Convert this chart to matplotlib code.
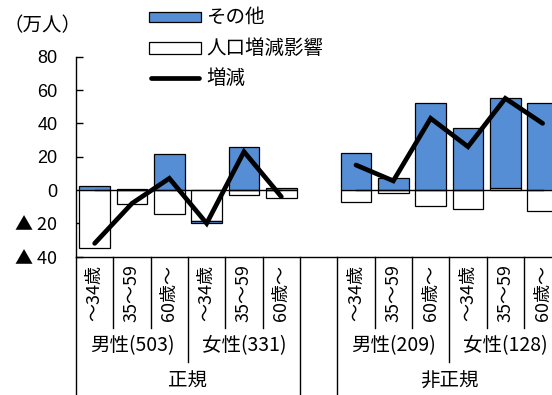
import matplotlib
matplotlib.use("Agg")
import matplotlib.pyplot as plt
from matplotlib.patches import Rectangle
from matplotlib.lines import Line2D
import numpy as np

# ---- data ----
employment = ["正規", "非正規"]
genders = ["男性(503)", "女性(331)", "男性(209)", "女性(128)"]
ages = ["～34歳", "35～59", "60歳～"]
legend_labels = ["その他", "人口増減影響", "増減"]
other = [2.5, 0.5, 21.5, -1.5, 26, 1, 22, 7.5, 52.5, 37.5, 53.5, 52.5]
population = [-34.5, -8.5, -14.5, -18.5, -3, -5, -7, -2, -9.5, -11.5, 1.5, -12.5]
net_change = [-32, -8, 7, -20, 23, -4, 15, 5.5, 43, 26, 55, 40]
yticks = [-40, -20, 0, 20, 40, 60, 80]
ytick_labels = ["▲ 40", "▲ 20", "0", "20", "40", "60", "80"]
unit_label = "（万人）"

BLUE = "#558ED5"
JP = ["Noto Sans CJK JP", "DejaVu Sans"]
NUM = ["Liberation Sans", "Noto Sans CJK JP", "DejaVu Sans"]
TRI = ["Noto Sans CJK JP", "DejaVu Sans"]

W, H = 552, 395
fig = plt.figure(figsize=(W / 100, H / 100), dpi=100)

def fx(px):
    return px / W

def fy(py):
    return 1 - py / H

ax_left, ax_right = 76, 561.3
ax_top, ax_bot = 56.7, 256.7
ax = fig.add_axes([fx(ax_left), fy(ax_bot), fx(ax_right - ax_left), (ax_bot - ax_top) / H])

n_per_group = len(genders) // len(employment) * len(ages)  # 6
x = np.array([g * (n_per_group + 1) + i for g in range(len(employment)) for i in range(n_per_group)])

other_a = np.array(other, dtype=float)
pop_a = np.array(population, dtype=float)

# stacking: population first, then other on the same side
pos_base = np.zeros_like(pop_a)
neg_base = np.zeros_like(pop_a)
pop_bottom = np.where(pop_a >= 0, pos_base, neg_base)
pos_base = pos_base + np.clip(pop_a, 0, None)
neg_base = neg_base + np.clip(pop_a, None, 0)
other_bottom = np.where(other_a >= 0, pos_base, neg_base)

bw = 0.82
edge_lw = 0.9
ax.bar(x, pop_a, bottom=pop_bottom, width=bw, color="white", edgecolor="black", linewidth=edge_lw, zorder=2)
ax.bar(x, other_a, bottom=other_bottom, width=bw, color=BLUE, edgecolor="black", linewidth=edge_lw, zorder=2)

# zero reference line per group and net-change line per group
for g in range(len(employment)):
    sl = slice(g * n_per_group, (g + 1) * n_per_group)
    xs = x[sl]
    ax.plot([xs[0], xs[-1]], [0, 0], color="black", lw=1.0, zorder=3)
    ax.plot(xs, np.array(net_change)[sl], color="black", lw=3.4, zorder=4,
            solid_capstyle="round", solid_joinstyle="miter")

ax.set_xlim(-0.5, x[-1] + 0.5)
ax.set_ylim(-40, 80)
ax.set_yticks(yticks)
ax.set_yticklabels(ytick_labels, fontsize=13)
ax.tick_params(axis="y", direction="in", length=5, width=1.0, pad=13.5)
for t in ax.yaxis.get_ticklabels():
    t.set_fontfamily(TRI if "▲" in t.get_text() else NUM)
ax.set_xticks([])
for s in ["top", "right"]:
    ax.spines[s].set_visible(False)
ax.spines["left"].set_linewidth(1.0)
ax.spines["bottom"].set_linewidth(1.0)

# ---- multi-level category table ----
tr = ax.get_xaxis_transform()
def ay(py):
    return -(py - ax_bot) / (ax_bot - ax_top)

y_age_end = ay(327.7)
y_gender_end = ay(362.3)
y_full_end = ay(420)
n_slots = len(x) + 1
for b in range(n_slots + 1):
    edge = b - 0.5
    local = b % (n_per_group + 1)
    if local == 0 or local == n_per_group:
        yend = y_full_end
    elif local == len(ages):
        yend = y_gender_end
    else:
        yend = y_age_end
    ax.plot([edge, edge], [0, yend], transform=tr, color="black", lw=1.0, clip_on=False)

for k, xi in enumerate(x):
    ax.text(xi, ay(293), ages[k % len(ages)], transform=tr, rotation=90,
            ha="center", va="center", fontsize=13, family=JP, rotation_mode="anchor")

for gi, lab in enumerate(genders):
    grp = gi // 2
    sub = gi % 2
    start = grp * (n_per_group + 1) + sub * len(ages)
    xc = start + (len(ages) - 1) / 2
    ax.text(xc, ay(346), lab, transform=tr, ha="center", va="center", fontsize=14, family=JP)

for gi, lab in enumerate(employment):
    xc = gi * (n_per_group + 1) + (n_per_group - 1) / 2
    ax.text(xc, ay(381.5), lab, transform=tr, ha="center", va="center", fontsize=14, family=JP)

# ---- unit label ----
fig.text(fx(42.5), fy(26), unit_label, ha="center", va="center", fontsize=14, family=JP)

# ---- legend (manual) ----
lx0, lx1 = 149, 201
rows = [17, 48, 78]
fig.add_artist(Rectangle((fx(lx0), fy(rows[0] + 5)), fx(lx1 - lx0), 10 / H,
                         facecolor=BLUE, edgecolor="black", lw=edge_lw, transform=fig.transFigure))
fig.add_artist(Rectangle((fx(lx0), fy(rows[1] + 5.5)), fx(lx1 - lx0), 11 / H,
                         facecolor="white", edgecolor="black", lw=edge_lw, transform=fig.transFigure))
fig.add_artist(Line2D([fx(lx0 + 2), fx(lx1 - 2)], [fy(rows[2]), fy(rows[2])], color="black", lw=3.4,
                      solid_capstyle="round", transform=fig.transFigure))
for r, lab in zip(rows, legend_labels):
    fig.text(fx(206), fy(r), lab, ha="left", va="center", fontsize=14, family=JP)

fig.savefig("out.png", dpi=100)
